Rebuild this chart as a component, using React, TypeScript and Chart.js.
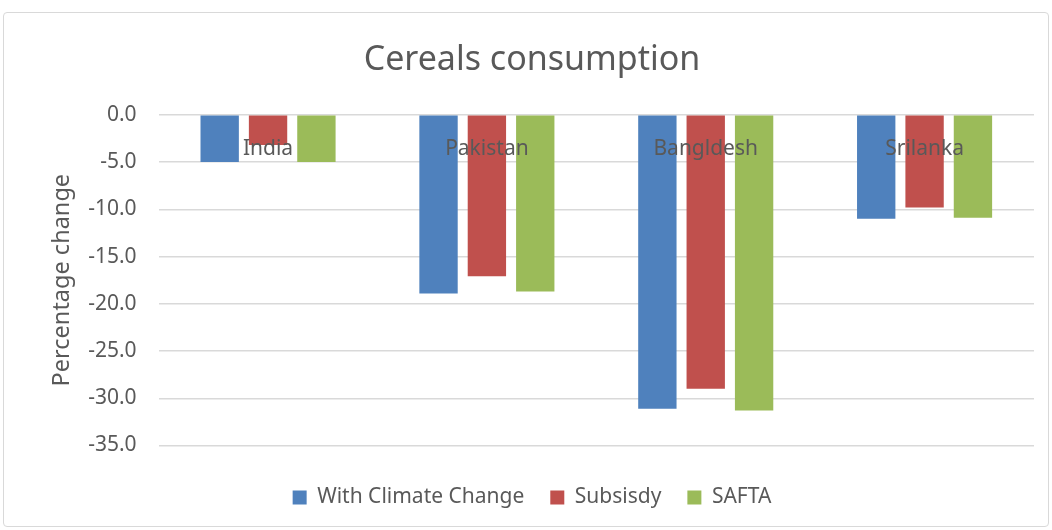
import React, { useEffect, useRef } from "react";
import { Chart, registerables } from "chart.js";

Chart.register(...registerables);

const categories = ["India", "Pakistan", "Bangldesh", "Srilanka"];
const withClimateChange = [-5.0, -18.9, -31.1, -11.0];
const subsidy = [-3.2, -17.1, -29.0, -9.8];
const safta = [-5.0, -18.7, -31.3, -10.9];
const seriesNames = ["With Climate Change", "Subsisdy", "SAFTA"];
const chartTitle = "Cereals consumption";
const yAxisTitle = "Percentage change";

const FONT = "'Noto Sans', sans-serif";
const TEXT = "#595959";

export default function App() {
  const ref = useRef<HTMLCanvasElement>(null);
  useEffect(() => {
    if (!ref.current) return;
    const chart = new Chart(ref.current, {
      type: "bar",
      data: {
        labels: categories,
        datasets: [
          { label: seriesNames[0], data: withClimateChange, backgroundColor: "#4F81BD" },
          { label: seriesNames[1], data: subsidy, backgroundColor: "#C0504D" },
          { label: seriesNames[2], data: safta, backgroundColor: "#9BBB59" },
        ],
      },
      options: {
        animation: false,
        responsive: false,
        maintainAspectRatio: false,
        layout: { padding: { left: 30, right: 18, top: 0, bottom: 12 } },
        datasets: {
          bar: { categoryPercentage: 0.663, barPercentage: 0.793 },
        },
        scales: {
          x: {
            position: { y: 0 } as any,
            grid: { display: false, drawTicks: false },
            border: { display: false },
            ticks: {
              z: 1,
              padding: 22,
              color: TEXT,
              font: { family: FONT, size: 21 },
              maxRotation: 0,
            },
          },
          y: {
            min: -35,
            max: 0,
            ticks: {
              stepSize: 5,
              padding: 22,
              color: TEXT,
              font: { family: FONT, size: 21 },
              callback: (v: any) => Number(v).toFixed(1),
            },
            grid: { color: "#D9D9D9", lineWidth: 1.5, drawTicks: false },
            border: { display: false },
            title: {
              display: true,
              text: yAxisTitle,
              color: TEXT,
              font: { family: FONT, size: 23.5 },
              padding: { top: 18, bottom: -10 },
            },
          },
        },
        plugins: {
          title: {
            display: true,
            text: chartTitle,
            color: TEXT,
            font: { family: FONT, size: 34, weight: "normal" },
            padding: { top: 40, bottom: 34 },
          },
          legend: {
            position: "bottom",
            title: {
              display: true,
              text: " ",
              font: { family: FONT, size: 10 },
              padding: { top: 3.5, bottom: 0 },
            },
            labels: {
              color: TEXT,
              font: { family: FONT, size: 21 },
              boxWidth: 14,
              boxHeight: 14,
              padding: 26,
            },
          },
          tooltip: { enabled: false },
        },
      },
    });
    return () => chart.destroy();
  }, []);

  return (
    <div style={{ position: "fixed", left: 0, top: 0, width: 1052, height: 530, background: "#fff" }}>
      <div
        style={{
          position: "absolute",
          left: 3,
          top: 12,
          width: 1046,
          height: 515,
          border: "1px solid #D9D9D9",
          borderRadius: 4,
          boxSizing: "border-box",
        }}
      />
      <canvas ref={ref} width={1052} height={530} style={{ position: "absolute", left: 0, top: 0 }} />
    </div>
  );
}
